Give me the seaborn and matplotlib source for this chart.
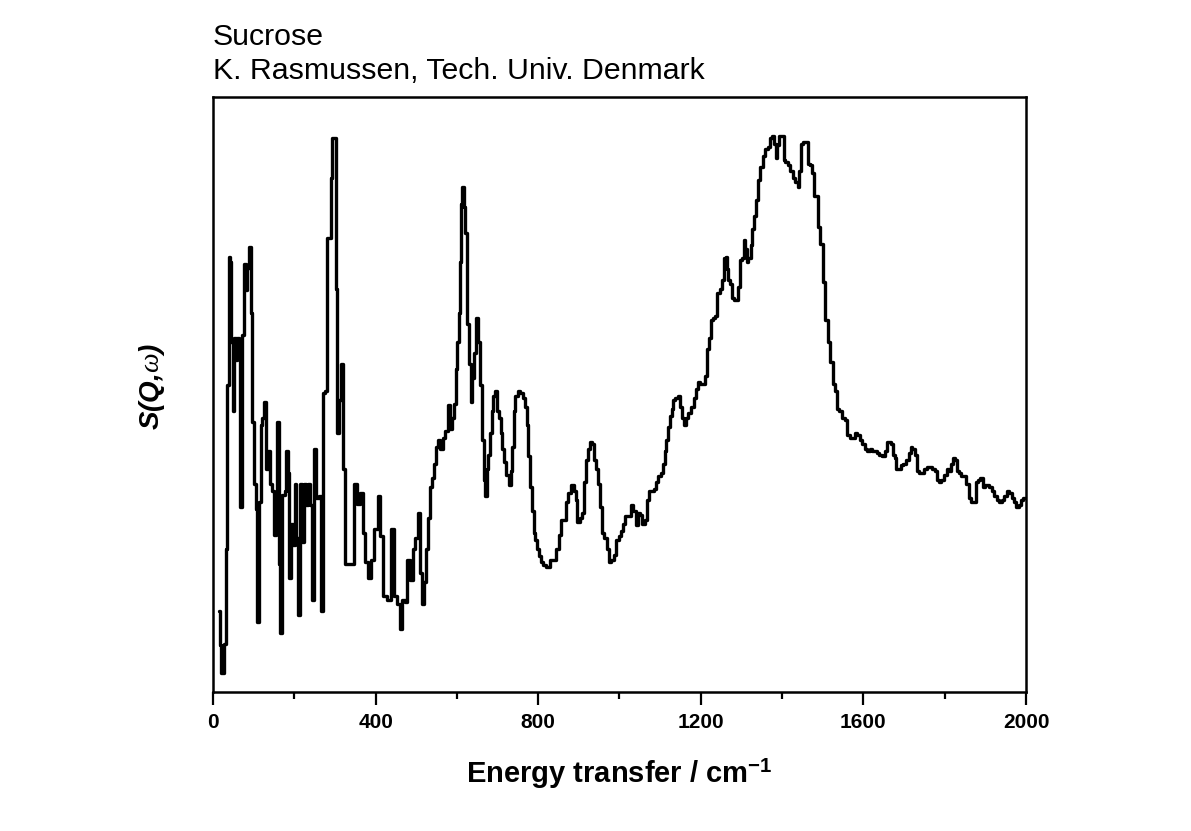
import matplotlib
matplotlib.use("Agg")
import matplotlib.pyplot as plt
from matplotlib.ticker import MultipleLocator, NullLocator
import seaborn as sns

# energy transfer (cm-1) and S(Q,w) in arbitrary units
energy = [15, 18, 22, 25, 30, 34, 37, 40, 44, 47, 50, 54, 58, 62, 66, 69, 74, 79, 82, 86,
          91, 95, 99, 103, 107, 111, 115, 119, 123, 129, 133, 138, 142, 148, 152, 156, 160, 164, 168, 174,
          179, 182, 186, 190, 195, 199, 203, 206, 211, 215, 221, 225, 231, 236, 240, 246, 252, 257, 263, 269,
          273, 279, 283, 288, 292, 296, 300, 303, 308, 312, 318, 322, 326, 334, 342, 350, 357, 366, 370, 378,
          384, 393, 401, 409, 415, 423, 435, 443, 450, 457, 464, 467, 477, 480, 489, 495, 501, 507, 512, 517,
          523, 527, 532, 537, 541, 545, 550, 557, 562, 568, 575, 580, 585, 591, 596, 599, 603, 606, 609, 612,
          615, 619, 623, 627, 632, 636, 640, 645, 650, 654, 659, 664, 667, 672, 676, 679, 684, 688, 692, 696,
          700, 706, 710, 714, 718, 724, 730, 735, 738, 742, 746, 753, 759, 765, 770, 773, 778, 782, 787, 790,
          796, 800, 804, 810, 816, 824, 833, 841, 847, 853, 859, 865, 871, 878, 884, 890, 894, 899, 905, 911,
          915, 919, 925, 929, 935, 939, 943, 950, 955, 960, 966, 971, 976, 983, 989, 995, 1001, 1007, 1011, 1018,
          1026, 1032, 1036, 1043, 1048, 1053, 1060, 1065, 1069, 1075, 1082, 1087, 1093, 1098, 1104, 1109, 1113, 1117, 1122, 1126,
          1130, 1135, 1140, 1146, 1150, 1156, 1162, 1166, 1173, 1179, 1186, 1190, 1195, 1202, 1209, 1214, 1218, 1222, 1226, 1233,
          1239, 1243, 1250, 1256, 1260, 1264, 1267, 1269, 1274, 1278, 1284, 1291, 1294, 1299, 1304, 1307, 1312, 1314, 1320, 1325,
          1328, 1333, 1339, 1343, 1349, 1355, 1362, 1367, 1372, 1377, 1382, 1387, 1390, 1395, 1402, 1405, 1411, 1417, 1424, 1430,
          1435, 1441, 1444, 1449, 1454, 1461, 1465, 1470, 1475, 1481, 1486, 1491, 1497, 1503, 1509, 1515, 1521, 1527, 1534, 1538,
          1544, 1550, 1557, 1563, 1569, 1575, 1582, 1587, 1594, 1600, 1606, 1612, 1618, 1624, 1630, 1636, 1643, 1649, 1655, 1660,
          1666, 1671, 1675, 1679, 1683, 1690, 1694, 1701, 1709, 1715, 1718, 1723, 1730, 1734, 1741, 1746, 1753, 1759, 1766, 1772,
          1779, 1783, 1789, 1795, 1801, 1808, 1813, 1817, 1822, 1827, 1833, 1838, 1844, 1850, 1857, 1862, 1868, 1875, 1879, 1884,
          1891, 1896, 1901, 1906, 1913, 1918, 1925, 1930, 1937, 1943, 1949, 1955, 1962, 1967, 1972, 1979, 1984, 1989, 1995, 2000]

sqw = [0.81, 0.47, 0.19, 0.19, 0.48, 1.43, 3.07, 4.35, 4.30, 3.50, 2.81, 3.54, 3.32, 3.54, 3.47, 1.85, 3.57, 4.28, 4.02, 4.24,
       4.45, 3.79, 2.70, 2.08, 1.83, 0.70, 1.90, 2.67, 2.74, 2.90, 2.23, 2.41, 2.08, 2.01, 1.57, 1.79, 2.70, 1.28, 0.59, 1.97,
       2.01, 2.41, 2.19, 1.14, 1.68, 1.47, 2.08, 1.54, 0.77, 2.08, 1.50, 2.08, 1.87, 2.08, 1.87, 0.92, 2.43, 1.94, 1.96, 0.81,
       2.99, 3.01, 4.54, 4.54, 5.14, 5.54, 5.54, 4.03, 2.59, 2.92, 3.28, 2.23, 1.28, 1.28, 1.28, 2.08, 1.88, 1.99, 1.59, 1.30,
       1.14, 1.32, 1.63, 1.96, 1.56, 0.96, 0.92, 1.63, 0.96, 0.88, 0.63, 0.92, 0.90, 1.32, 1.12, 1.43, 1.54, 1.79, 1.19, 0.88,
       1.10, 1.43, 1.74, 2.05, 2.14, 2.28, 2.45, 2.52, 2.43, 2.54, 2.61, 2.87, 2.63, 2.74, 2.88, 3.23, 3.50, 3.79, 4.30, 4.88,
       5.05, 4.85, 4.59, 3.68, 3.28, 2.90, 3.14, 3.39, 3.74, 3.50, 3.07, 2.52, 2.12, 1.96, 2.23, 2.37, 2.59, 2.81, 2.96, 3.01,
       2.81, 2.74, 2.59, 2.43, 2.30, 2.17, 2.07, 2.21, 2.45, 2.81, 2.96, 3.01, 2.99, 2.94, 2.85, 2.67, 2.36, 2.05, 1.81, 1.59,
       1.52, 1.43, 1.36, 1.30, 1.27, 1.25, 1.32, 1.32, 1.43, 1.57, 1.72, 1.72, 1.90, 1.99, 2.07, 2.01, 1.92, 1.70, 1.74, 1.79,
       2.10, 2.32, 2.43, 2.50, 2.48, 2.32, 2.23, 2.08, 1.85, 1.59, 1.54, 1.43, 1.30, 1.32, 1.37, 1.52, 1.56, 1.61, 1.68, 1.76,
       1.76, 1.87, 1.81, 1.67, 1.79, 1.77, 1.68, 1.72, 1.92, 2.01, 2.01, 2.03, 2.10, 2.16, 2.19, 2.28, 2.41, 2.52, 2.65, 2.76,
       2.83, 2.92, 2.94, 2.96, 2.85, 2.74, 2.67, 2.74, 2.79, 2.85, 2.94, 3.03, 3.10, 3.08, 3.08, 3.16, 3.43, 3.54, 3.72, 3.74,
       3.76, 3.99, 4.03, 4.12, 4.34, 4.35, 4.23, 4.12, 4.08, 3.94, 3.92, 3.92, 4.05, 4.32, 4.34, 4.52, 4.43, 4.30, 4.34, 4.47,
       4.63, 4.76, 4.92, 5.12, 5.25, 5.36, 5.43, 5.45, 5.54, 5.56, 5.48, 5.34, 5.47, 5.56, 5.56, 5.32, 5.30, 5.27, 5.21, 5.14,
       5.10, 5.05, 5.21, 5.48, 5.50, 5.50, 5.28, 5.27, 5.19, 4.96, 4.96, 4.65, 4.48, 4.10, 3.72, 3.50, 3.30, 3.08, 3.01, 2.83,
       2.81, 2.74, 2.72, 2.57, 2.54, 2.54, 2.59, 2.57, 2.52, 2.48, 2.43, 2.41, 2.43, 2.41, 2.41, 2.39, 2.37, 2.36, 2.41, 2.50,
       2.50, 2.48, 2.37, 2.34, 2.23, 2.23, 2.27, 2.28, 2.32, 2.39, 2.45, 2.43, 2.37, 2.21, 2.19, 2.19, 2.23, 2.25, 2.25, 2.23,
       2.21, 2.12, 2.10, 2.12, 2.17, 2.23, 2.21, 2.28, 2.34, 2.32, 2.21, 2.19, 2.16, 2.16, 2.08, 1.94, 1.90, 1.90, 2.10, 2.12,
       2.14, 2.05, 2.07, 2.07, 2.05, 2.01, 1.96, 1.92, 1.90, 1.92, 1.96, 2.01, 1.99, 1.94, 1.90, 1.85, 1.87, 1.92, 1.94, 1.94]

x_ticks = [0, 400, 800, 1200, 1600, 2000]

sns.set_theme(style="ticks")
plt.rcParams['font.family'] = ['Liberation Sans', 'DejaVu Sans']
plt.rcParams['text.color'] = 'black'
plt.rcParams['axes.labelcolor'] = 'black'
plt.rcParams['xtick.color'] = 'black'
plt.rcParams['mathtext.fontset'] = 'custom'
plt.rcParams['mathtext.rm'] = 'Liberation Sans'
plt.rcParams['mathtext.bf'] = 'Liberation Sans:bold'
plt.rcParams['mathtext.it'] = 'Liberation Serif:italic'

fig = plt.figure(figsize=(11.91, 8.31), dpi=100)
ax = fig.add_axes([0.1788, 0.1673, 0.6827, 0.716])

sns.lineplot(x=energy, y=sqw, ax=ax, color='black', linewidth=2.4,
             drawstyle='steps-mid', errorbar=None)

ax.set_xlim(0, 2000)
ax.set_ylim(0, 5.95)
ax.set_xticks(x_ticks)
ax.xaxis.set_minor_locator(MultipleLocator(200))
ax.yaxis.set_major_locator(NullLocator())
ax.tick_params(axis='x', which='major', direction='out', length=9, width=1.6,
               labelsize=15, pad=6, colors='black')
ax.tick_params(axis='x', which='minor', direction='out', length=5, width=1.6)
for lab in ax.get_xticklabels():
    lab.set_fontweight('bold')

for side in ['left', 'right', 'top', 'bottom']:
    ax.spines[side].set_visible(True)
    ax.spines[side].set_linewidth(1.8)
    ax.spines[side].set_color('black')

ax.set_xlabel(r'Energy transfer / cm$^{\mathbf{-1}}$', fontsize=21,
              fontweight='bold', labelpad=18)
ax.set_ylabel(r'S(Q,$\omega$)', fontsize=20, fontweight='bold', fontstyle='italic')
ax.yaxis.set_label_coords(-0.057, 0.514)

fig.text(0.1788, 1 - 45 / 831, 'Sucrose', fontsize=21.8, ha='left', va='baseline')
fig.text(0.1788, 1 - 79 / 831, 'K. Rasmussen, Tech. Univ. Denmark', fontsize=21.8,
         ha='left', va='baseline')

fig.savefig('out.png', dpi=100, facecolor='white')
